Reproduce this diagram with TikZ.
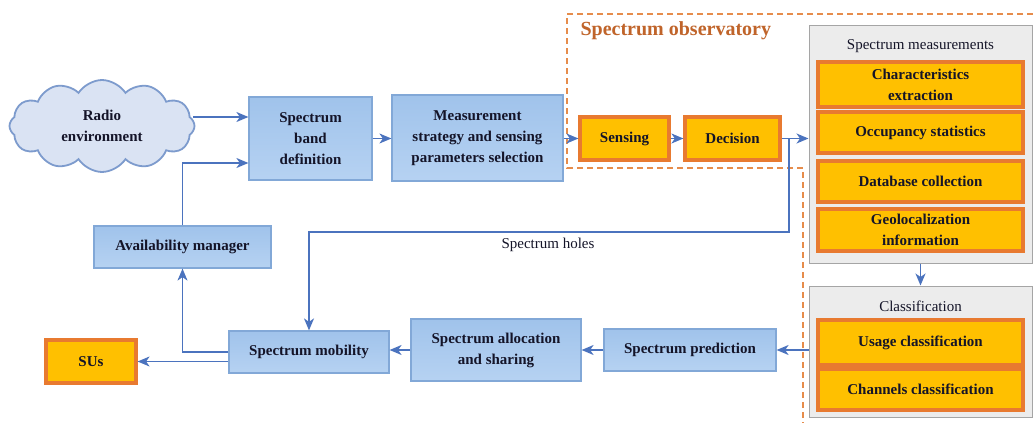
\documentclass[tikz,border=0pt]{standalone}
\usepackage{fontspec}
\setmainfont{Liberation Serif}
\usetikzlibrary{arrows.meta,shapes.symbols,calc}
\definecolor{bluefillA}{RGB}{160,195,235}
\definecolor{bluefillB}{RGB}{182,210,242}
\definecolor{blueline}{RGB}{130,168,215}
\definecolor{arrowcol}{RGB}{75,115,190}
\definecolor{goldfill}{RGB}{255,192,0}
\definecolor{orangeline}{RGB}{232,122,48}
\definecolor{dashcol}{RGB}{230,140,75}
\definecolor{titlecol}{RGB}{192,100,42}
\definecolor{grayfill}{RGB}{236,236,236}
\definecolor{grayline}{RGB}{165,165,165}
\definecolor{cloudfill}{RGB}{218,227,243}
\definecolor{cloudline}{RGB}{125,155,205}
\definecolor{txt}{RGB}{20,20,40}
\begin{document}
\begin{tikzpicture}[x=1pt,y=-1pt,
  every node/.style={font=\fontsize{15}{21}\selectfont, text=txt},
  bluebox/.style={draw=blueline, line width=1.2pt, top color=bluefillA, bottom color=bluefillB,
    font=\fontsize{15}{21}\selectfont\bfseries, align=center, inner sep=0pt},
  goldbox/.style={draw=orangeline, line width=3.2pt, fill=goldfill,
    font=\fontsize{15}{21}\selectfont\bfseries, align=center, inner sep=0pt},
  graybox/.style={draw=grayline, line width=1pt, fill=grayfill, inner sep=0pt},
  arr/.style={draw=arrowcol, line width=1.4pt, -{Stealth[length=12pt,width=10pt,inset=3.5pt]}}
]
\useasboundingbox[fill=white] (0,0) rectangle (1033,423);

% observatory dashed outline
\draw[dashcol, line width=2pt, dash pattern=on 6pt off 4pt]
  (1033,14) -- (567,14) -- (567,168) -- (803,168) -- (803,423);
\node[anchor=west, text=titlecol, font=\fontsize{20}{24}\selectfont\bfseries] (obs) at (577,31) {Spectrum observatory};

% cloud
\node[cloud, cloud puffs=12, cloud puff arc=115, aspect=2.1, draw=cloudline, line width=1.8pt,
  fill=cloudfill, minimum width=185pt, minimum height=92pt, align=center,
  font=\fontsize{15}{21}\selectfont\bfseries, inner sep=0pt] (cloud) at (102,126) {Radio\\environment};

% top row
\node[bluebox, minimum width=123pt, minimum height=83pt] (band) at (310.5,138.5) {Spectrum\\band\\definition};
\node[bluebox, minimum width=171pt, minimum height=86pt] (meas) at (477.5,138) {Measurement\\strategy and sensing\\parameters selection};
\node[goldbox, minimum width=89pt, minimum height=43pt] (sens) at (624.5,138.5) {Sensing};
\node[goldbox, minimum width=95pt, minimum height=43pt] (dec) at (732.5,138.5) {Decision};

% spectrum measurements
\node[graybox, minimum width=223pt, minimum height=238pt] (sm) at (920.5,144) {};
\node (smt) at (920.5,46) {Spectrum measurements};
\node[goldbox, minimum width=205pt, minimum height=45pt] (ce) at (920.5,84.5) {Characteristics\\extraction};
\node[goldbox, minimum width=205pt, minimum height=41pt] (os) at (920.5,132.5) {Occupancy statistics};
\node[goldbox, minimum width=205pt, minimum height=41pt] (dc) at (920.5,181.5) {Database collection};
\node[goldbox, minimum width=205pt, minimum height=42pt] (gi) at (920.5,230) {Geolocalization\\information};

% classification
\node[graybox, minimum width=223pt, minimum height=131pt] (cl) at (920.5,351.5) {};
\node (clt) at (920.5,306) {Classification};
\node[goldbox, minimum width=205pt, minimum height=45pt] (uc) at (920.5,342.5) {Usage classification};
\node[goldbox, minimum width=205pt, minimum height=41pt] (cc) at (920.5,389.5) {Channels classification};

% bottom row
\node[bluebox, minimum width=172pt, minimum height=42pt] (pred) at (690,350) {Spectrum prediction};
\node[bluebox, minimum width=170pt, minimum height=62pt] (alloc) at (496,350) {Spectrum allocation\\and sharing};
\node[bluebox, minimum width=160pt, minimum height=42pt] (mob) at (309,352) {Spectrum mobility};
\node[bluebox, minimum width=177pt, minimum height=42pt] (avail) at (182.5,247) {Availability manager};
\node[goldbox, minimum width=90pt, minimum height=43pt] (sus) at (91,361.5) {SUs};

% connectors
\coordinate (cl1) at (193,117);
\coordinate (j) at (789,138.5);
\coordinate (h) at (789,232);
\draw[arr] (cl1) -- (band.west |- cl1);
\draw[arr] (avail.north) |- (band.west |- 0,163);
\draw[arr] (band.east) -- (meas.west |- band.east);
\draw[arr] (meas.east |- sens.west) -- (sens.west);
\draw[arr] (sens.east) -- (dec.west);
\draw[arr] (dec.east) -- (sm.west |- dec.east);
\draw[arr] (j) -- (h) -| (mob.north);
\node (holes) at (548,245) {Spectrum holes};
\draw[arr] (sm.south) -- (cl.north);
\draw[arr] (cl.west |- pred.east) -- (pred.east);
\draw[arr] (pred.west) -- (alloc.east |- pred.west);
\draw[arr] (alloc.west) -- (mob.east |- alloc.west);
\draw[arr] (mob.west) -| (avail.south);
\draw[arr] (mob.west |- sus.east) -- (sus.east);
\end{tikzpicture}
\end{document}
